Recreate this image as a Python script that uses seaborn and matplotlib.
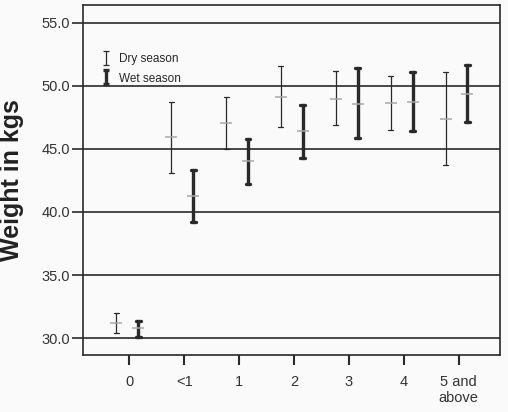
import numpy as np
import pandas as pd
import matplotlib
matplotlib.use("Agg")
import matplotlib.pyplot as plt
import matplotlib.transforms as mtransforms
from matplotlib.path import Path
from matplotlib.lines import Line2D
import seaborn as sns

# ---- data ----
categories = ["0", "<1", "1", "2", "3", "4", "5 and\nabove"]
seasons = ["Dry season", "Wet season"]
dry_mean = [31.2, 45.9, 47.05, 49.1, 48.95, 48.6, 47.4]
dry_low = [30.4, 43.1, 45.0, 46.7, 46.9, 46.5, 43.7]
dry_high = [32.0, 48.7, 49.1, 51.6, 51.2, 50.8, 51.1]
wet_mean = [30.8, 41.25, 44.0, 46.4, 48.55, 48.7, 49.35]
wet_low = [30.1, 39.2, 42.25, 44.3, 45.85, 46.45, 47.15]
wet_high = [31.35, 43.35, 45.8, 48.45, 51.4, 51.1, 51.65]
y_ticks = [30.0, 35.0, 40.0, 45.0, 50.0, 55.0]

rows = []
for season, lo, mn, hi in [("Dry season", dry_low, dry_mean, dry_high),
                           ("Wet season", wet_low, wet_mean, wet_high)]:
    for c, a, b, d in zip(categories, lo, mn, hi):
        for v in (a, b, d):
            rows.append({"age": c, "weight": v, "season": season})
df = pd.DataFrame(rows)

sns.set_style("ticks")
plt.rcParams["font.family"] = ["Liberation Sans", "DejaVu Sans"]

ink = "#2a2a2a"
fig = plt.figure(figsize=(5.08, 4.12), dpi=100, facecolor="#fafafa")
ax = fig.add_axes([0.163, 0.138, 0.821, 0.85])
ax.set_facecolor("#fafafa")

styles = {
    "Dry season": dict(offset=-0.24, lw=0.9, capsize=0.09),
    "Wet season": dict(offset=0.16, lw=2.4, capsize=0.09),
}
for season in seasons:
    st = styles[season]
    n0 = len(ax.lines)
    sns.pointplot(data=df[df["season"] == season], x="age", y="weight",
                  order=categories, estimator="median", errorbar=("pi", 100),
                  color=ink, markers="_", linestyle="none",
                  capsize=st["capsize"], err_kws={"linewidth": st["lw"]},
                  markersize=8, ax=ax)
    tr = mtransforms.Affine2D().translate(st["offset"], 0) + ax.transData
    for ln in ax.lines[n0:]:
        ln.set_transform(tr)
        if ln.get_marker() == "_":
            ln.set_markeredgecolor("#a8a8a8")
            ln.set_markeredgewidth(1.1)
            ln.set_zorder(5)
        else:
            ln.set_zorder(4)

ax.set_xlim(-0.85, 6.75)
ax.set_ylim(28.65, 56.4)
ax.set_yticks(y_ticks)
ax.set_yticklabels([f"{t:.1f}" for t in y_ticks])
ax.yaxis.grid(True, color=ink, linewidth=1.2)
ax.xaxis.grid(False)
ax.set_axisbelow(True)
for sp in ax.spines.values():
    sp.set_visible(True)
    sp.set_color(ink)
    sp.set_linewidth(1.2)
ax.tick_params(axis="y", length=8, width=1.2, color=ink, labelsize=10.5,
               labelcolor="#333333", pad=1)
ax.tick_params(axis="x", length=7, width=1.5, color=ink, labelsize=10.5,
               labelcolor="#333333", pad=7)
ax.set_xlabel("")
ax.set_ylabel("Weight in kgs", fontsize=18, fontweight="bold", color="#222222")
ax.yaxis.set_label_coords(-0.14, 0.5)

ibeam = Path([(-0.4, 1), (0.4, 1), (0, 1), (0, -1), (-0.4, -1), (0.4, -1)],
             [Path.MOVETO, Path.LINETO, Path.MOVETO, Path.LINETO,
              Path.MOVETO, Path.LINETO])
h1 = Line2D([], [], linestyle="none", marker=ibeam, markersize=10,
            markeredgewidth=0.9, color=ink)
h2 = Line2D([], [], linestyle="none", marker=ibeam, markersize=10,
            markeredgewidth=2.4, color=ink)
ax.legend([h1, h2], seasons, loc="upper left", bbox_to_anchor=(0.02, 0.885),
          frameon=False, fontsize=8.5, handlelength=1.2, handletextpad=0.5,
          labelspacing=0.6, borderaxespad=0.3)

fig.savefig("out.png", dpi=100, facecolor=fig.get_facecolor())
